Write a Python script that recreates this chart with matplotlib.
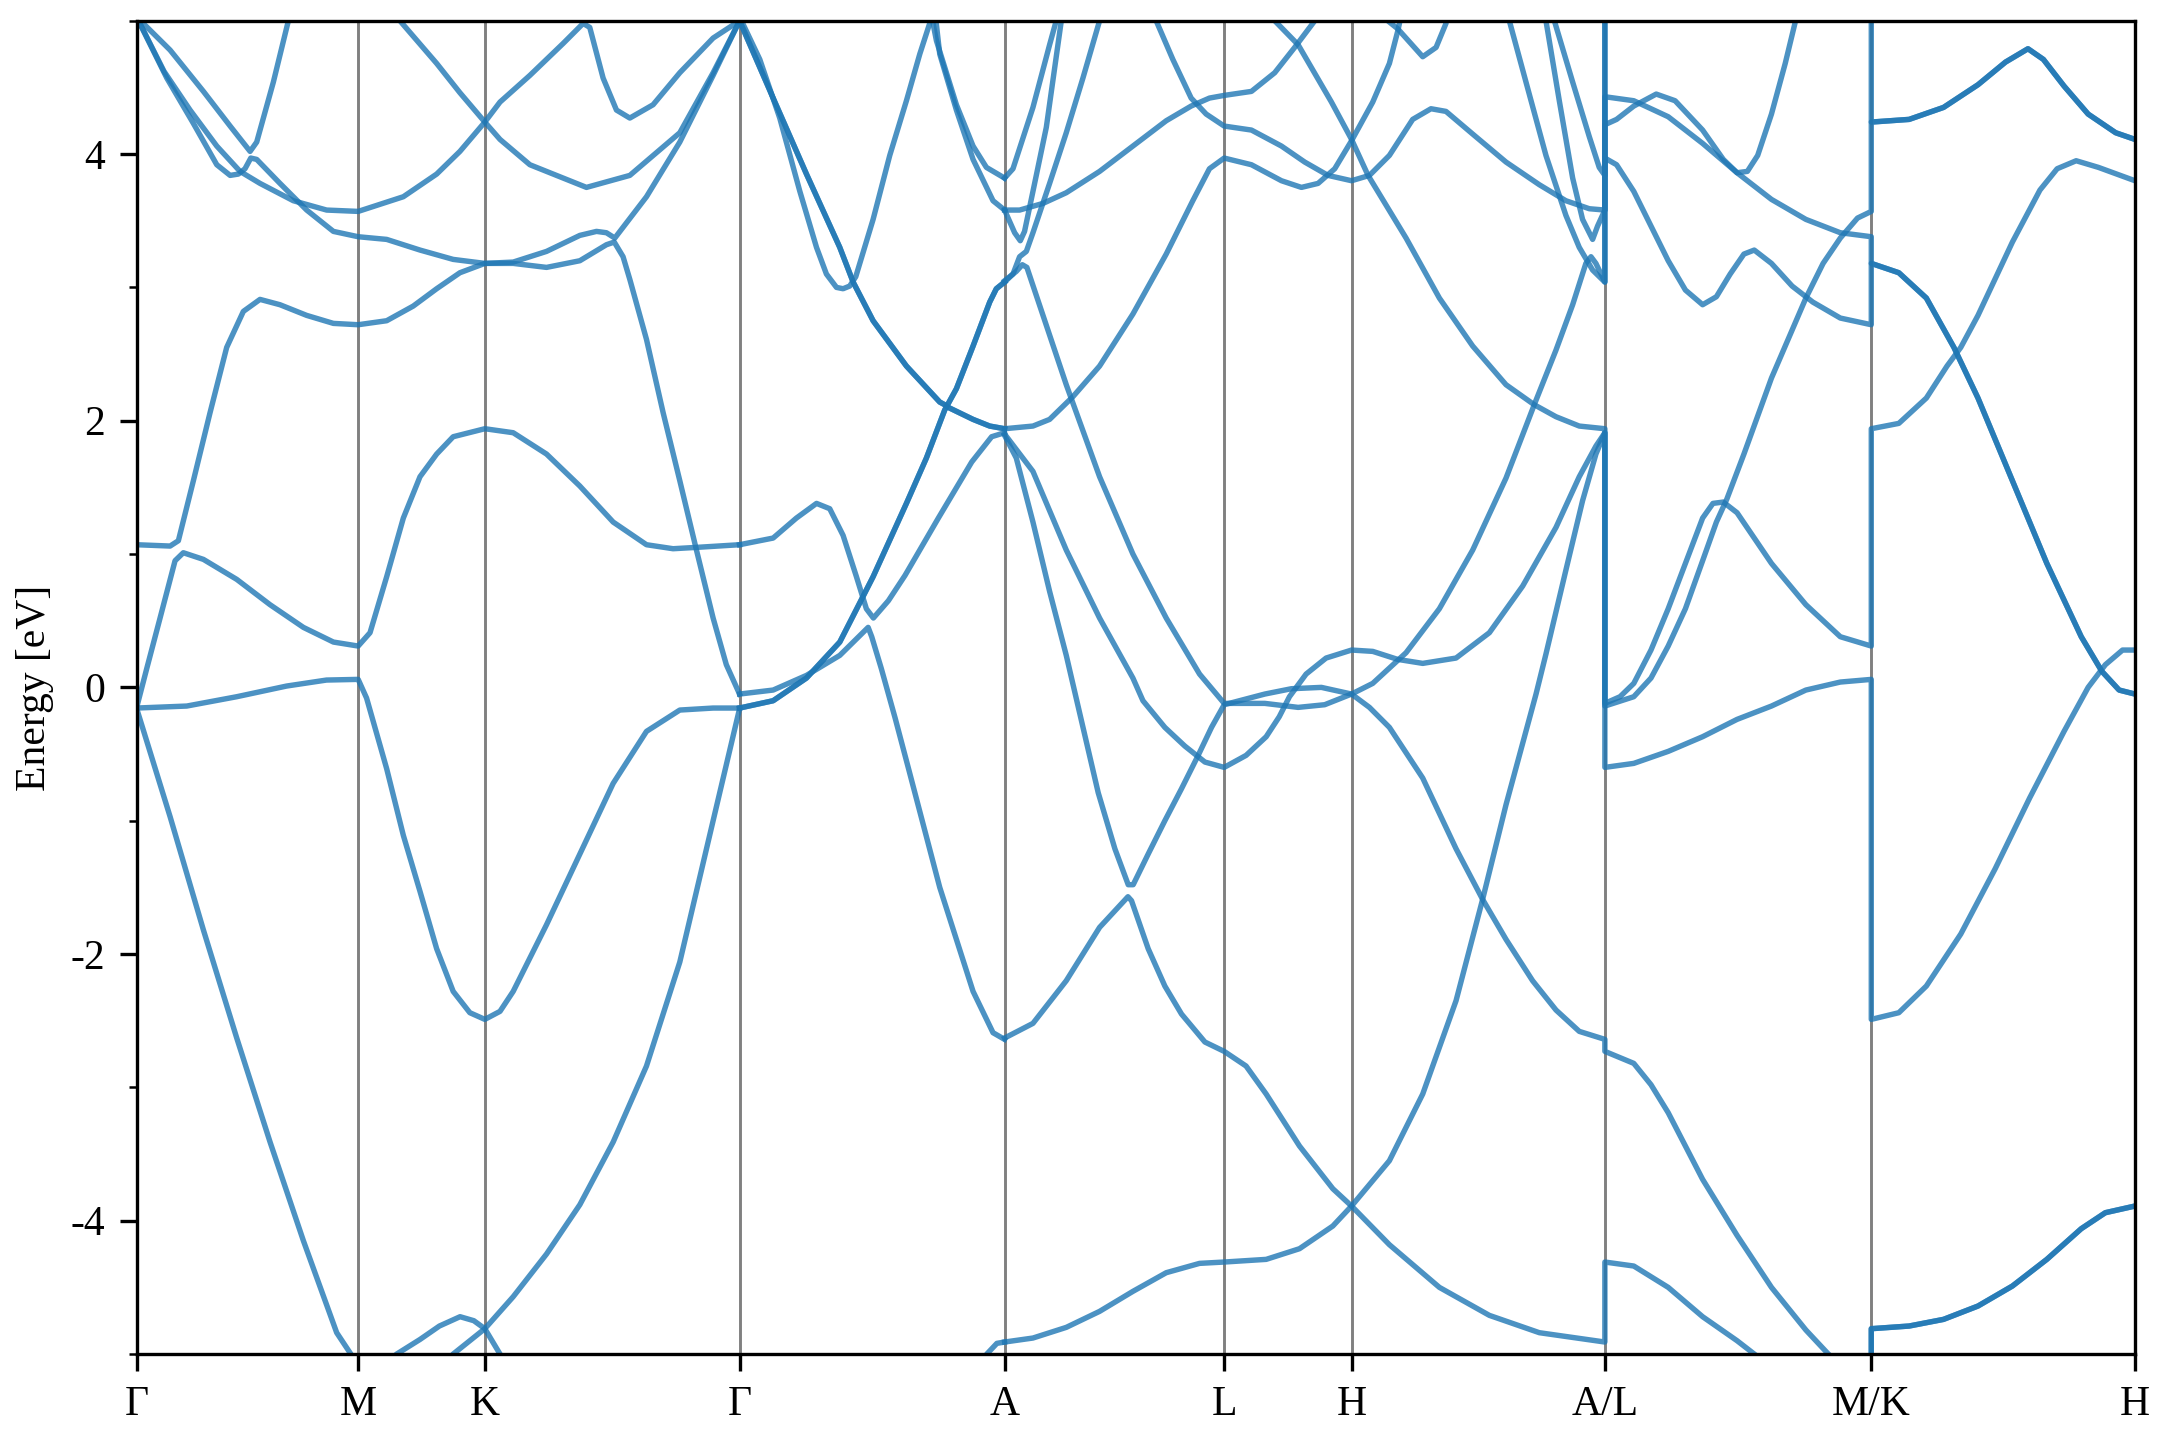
import matplotlib
matplotlib.use('Agg')
import matplotlib.pyplot as plt
from matplotlib.ticker import MultipleLocator

plt.rcParams['font.family'] = ['Liberation Serif', 'DejaVu Serif']
plt.rcParams['axes.unicode_minus'] = False
plt.rcParams['font.size'] = 10

# high-symmetry points along the path
kticks = [0.0, 1.61, 2.53, 4.38, 6.305, 7.90, 8.825, 10.665, 12.60, 14.515]
klabels = ['Γ', 'M', 'K', 'Γ', 'A', 'L', 'H', 'A/L', 'M/K', 'H']

# band pieces, (k, E), one list per segment
# Γ - M
gm_1 = [(0.0, -0.155), (0.244, -0.97), (0.486, -1.82), (0.728, -2.63), (0.97, -3.41), (1.212, -4.15), (1.454, -4.84), (1.563, -5.01), (1.61, -5.16)]
gm_2 = [(0.0, -0.155), (0.365, -0.14), (0.728, -0.07), (1.09, 0.01), (1.38, 0.055), (1.61, 0.06)]
gm_3 = [(0.0, -0.155), (0.074, 0.14), (0.171, 0.52), (0.28, 0.95), (0.34, 1.01), (0.486, 0.96), (0.728, 0.81), (0.97, 0.62), (1.212, 0.45), (1.43, 0.34), (1.61, 0.31)]
gm_4 = [(0.0, 1.07), (0.244, 1.06), (0.304, 1.10), (0.413, 1.55), (0.534, 2.06), (0.655, 2.55), (0.776, 2.82), (0.897, 2.91), (1.042, 2.87), (1.236, 2.79), (1.43, 2.73), (1.61, 2.72)]
gm_5 = [(0.0, 5.03), (0.22, 4.57), (0.413, 4.23), (0.583, 3.92), (0.68, 3.84), (0.74, 3.85), (0.788, 3.89), (0.83, 3.97), (0.873, 3.96), (1.042, 3.78), (1.236, 3.58), (1.43, 3.42), (1.61, 3.38)]
gm_6 = [(0.0, 5.03), (0.20, 4.62), (0.389, 4.33), (0.583, 4.06), (0.752, 3.87), (0.897, 3.78), (1.139, 3.65), (1.381, 3.58), (1.61, 3.57)]
gm_7 = [(0.0, 5.03), (0.244, 4.78), (0.486, 4.47), (0.68, 4.21), (0.825, 4.02), (0.873, 4.09), (0.994, 4.54), (1.103, 5.0), (1.12, 5.06)]

# M - K
mk_1 = [(1.61, -5.16), (1.80, -5.08), (1.89, -5.0), (2.06, -4.89), (2.20, -4.79), (2.35, -4.72), (2.45, -4.75), (2.53, -4.81), (2.64, -5.0), (2.75, -5.2)]
mk_2 = [(2.20, -5.12), (2.30, -5.0), (2.53, -4.81)]
mk_3 = [(1.61, 0.06), (1.671, -0.08), (1.817, -0.61), (1.938, -1.11), (2.059, -1.53), (2.18, -1.96), (2.30, -2.28), (2.421, -2.44), (2.53, -2.49)]
mk_4 = [(1.61, 0.31), (1.696, 0.41), (1.817, 0.83), (1.938, 1.27), (2.059, 1.58), (2.18, 1.75), (2.30, 1.88), (2.53, 1.94)]
mk_5 = [(1.61, 2.72), (1.817, 2.75), (2.01, 2.86), (2.18, 2.99), (2.349, 3.11), (2.53, 3.18)]
mk_6 = [(1.61, 3.38), (1.817, 3.36), (2.059, 3.28), (2.30, 3.21), (2.53, 3.18)]
mk_7 = [(1.61, 3.57), (1.938, 3.68), (2.18, 3.85), (2.349, 4.02), (2.53, 4.24)]
mk_8 = [(1.85, 5.08), (1.913, 5.0), (2.18, 4.68), (2.349, 4.46), (2.53, 4.24)]

# K - Γ
kg_2 = [(2.53, -4.81), (2.736, -4.57), (2.978, -4.25), (3.22, -3.88), (3.462, -3.41), (3.704, -2.84), (3.946, -2.06), (4.188, -1.00), (4.38, -0.16)]
kg_3 = [(2.53, -2.49), (2.64, -2.43), (2.736, -2.28), (2.978, -1.78), (3.22, -1.25), (3.462, -0.72), (3.704, -0.33), (3.946, -0.17), (4.188, -0.155), (4.38, -0.155)]
kg_4 = [(2.53, 1.94), (2.736, 1.91), (2.978, 1.75), (3.22, 1.51), (3.462, 1.24), (3.704, 1.07), (3.897, 1.04), (4.067, 1.05), (4.38, 1.07)]
kg_5 = [(2.53, 3.18), (2.736, 3.18), (2.978, 3.15), (3.22, 3.20), (3.413, 3.32), (3.47, 3.34), (3.534, 3.23), (3.583, 3.06), (3.704, 2.61), (3.825, 2.06), (3.946, 1.55), (4.067, 1.03), (4.188, 0.52), (4.284, 0.17), (4.38, -0.05)]
kg_6 = [(2.53, 3.18), (2.736, 3.19), (2.978, 3.27), (3.22, 3.39), (3.341, 3.42), (3.413, 3.41), (3.474, 3.37), (3.704, 3.68), (3.946, 4.09), (4.188, 4.59), (4.38, 5.0)]
kg_7 = [(2.53, 4.24), (2.64, 4.39), (2.857, 4.59), (3.099, 4.83), (3.244, 4.98), (3.292, 4.95), (3.389, 4.57), (3.486, 4.33), (3.583, 4.27), (3.752, 4.37), (3.946, 4.61), (4.188, 4.87), (4.38, 5.0)]
kg_8 = [(2.53, 4.24), (2.64, 4.11), (2.857, 3.92), (3.268, 3.75), (3.583, 3.84), (3.946, 4.16), (4.188, 4.61), (4.371, 4.98), (4.38, 5.0)]

# Γ - A
ga_1 = [(4.38, 5.0), (4.624, 4.42), (4.866, 3.85), (5.108, 3.30), (5.205, 3.04), (5.35, 2.75), (5.592, 2.41), (5.834, 2.14), (5.87, 2.12), (5.896, 2.10), (6.076, 2.01), (6.197, 1.96), (6.305, 1.94)]
ga_2 = [(4.38, -0.155), (4.624, -0.10), (4.866, 0.07), (5.108, 0.34), (5.35, 0.83), (5.592, 1.38), (5.737, 1.72), (5.87, 2.08), (5.955, 2.24), (6.076, 2.56), (6.197, 2.89), (6.245, 2.99), (6.305, 3.04)]
ga_3 = [(4.38, 5.03), (4.527, 4.71), (4.672, 4.27), (4.818, 3.72), (4.939, 3.30), (5.011, 3.10), (5.084, 3.00), (5.132, 2.99), (5.18, 3.01), (5.224, 3.08), (5.35, 3.51), (5.471, 3.99), (5.592, 4.40), (5.689, 4.75), (5.761, 4.98), (5.78, 5.06)]
ga_4 = [(5.77, 5.06), (5.81, 4.85), (5.955, 4.37), (6.076, 4.06), (6.173, 3.90), (6.305, 3.82)]
ga_5 = [(5.80, 5.06), (5.834, 4.75), (5.955, 4.33), (6.076, 3.96), (6.221, 3.65), (6.305, 3.58)]
ga_6 = [(4.38, -0.05), (4.624, -0.02), (4.866, 0.09), (5.108, 0.24), (5.314, 0.45), (5.34, 0.38), (5.41, 0.14), (5.51, -0.23), (5.61, -0.62), (5.834, -1.50), (6.076, -2.28), (6.221, -2.59), (6.305, -2.64)]
ga_7 = [(4.38, 1.07), (4.624, 1.12), (4.793, 1.27), (4.939, 1.38), (5.035, 1.34), (5.132, 1.14), (5.229, 0.83), (5.301, 0.59), (5.352, 0.52), (5.461, 0.65), (5.582, 0.84), (5.824, 1.27), (6.066, 1.69), (6.211, 1.88), (6.305, 1.91)]
ga_8 = [(6.10, -5.15), (6.176, -5.0), (6.249, -4.92), (6.305, -4.91)]

# A - L
al_1 = [(6.305, 1.94), (6.511, 1.96), (6.632, 2.01), (6.801, 2.18), (6.995, 2.41), (7.237, 2.80), (7.479, 3.25), (7.672, 3.65), (7.793, 3.89), (7.90, 3.97)]
al_2 = [(6.305, 1.89), (6.39, 1.72), (6.511, 1.24), (6.632, 0.72), (6.753, 0.24), (6.825, -0.08), (6.985, -0.79), (7.106, -1.21), (7.203, -1.48), (7.239, -1.48), (7.348, -1.25), (7.469, -1.00), (7.59, -0.76), (7.711, -0.51), (7.808, -0.30), (7.90, -0.13)]
al_3 = [(6.305, 1.90), (6.511, 1.62), (6.753, 1.03), (6.995, 0.52), (7.237, 0.07), (7.31, -0.10), (7.469, -0.30), (7.614, -0.44), (7.76, -0.56), (7.90, -0.60)]
al_4 = [(6.305, 3.05), (6.39, 3.12), (6.434, 3.17), (6.467, 3.15), (6.584, 2.79), (6.753, 2.27), (6.995, 1.58), (7.237, 1.00), (7.479, 0.52), (7.721, 0.10), (7.90, -0.12)]
al_5 = [(6.305, 3.04), (6.366, 3.10), (6.414, 3.23), (6.463, 3.27), (6.511, 3.41), (6.632, 3.78), (6.753, 4.16), (6.874, 4.57), (6.995, 5.0), (7.01, 5.06)]
al_6 = [(6.305, 3.58), (6.378, 3.41), (6.419, 3.35), (6.45, 3.42), (6.511, 3.72), (6.608, 4.20), (6.717, 5.0), (6.73, 5.06)]
al_7 = [(6.305, 3.58), (6.414, 3.58), (6.584, 3.63), (6.753, 3.71), (6.995, 3.87), (7.237, 4.06), (7.479, 4.25), (7.66, 4.36), (7.793, 4.42), (7.90, 4.44)]
al_8 = [(6.305, 3.82), (6.366, 3.89), (6.511, 4.35), (6.632, 4.82), (6.68, 5.0), (6.69, 5.06)]
al_9 = [(7.39, 5.06), (7.406, 5.0), (7.527, 4.71), (7.66, 4.42), (7.769, 4.30), (7.90, 4.21)]
al_10 = [(6.305, -2.63), (6.511, -2.52), (6.753, -2.20), (6.995, -1.80), (7.201, -1.57), (7.227, -1.60), (7.348, -1.96), (7.469, -2.24), (7.59, -2.45), (7.76, -2.66), (7.90, -2.73)]
al_11 = [(6.305, -4.91), (6.511, -4.88), (6.753, -4.80), (6.995, -4.68), (7.237, -4.53), (7.479, -4.39), (7.721, -4.32), (7.90, -4.31)]

# L - H
lh_1 = [(7.90, 3.97), (8.098, 3.92), (8.316, 3.80), (8.461, 3.75), (8.582, 3.78), (8.703, 3.89), (8.825, 4.10)]
lh_2 = [(7.90, 4.21), (8.098, 4.18), (8.316, 4.06), (8.485, 3.94), (8.654, 3.84), (8.825, 3.80)]
lh_3 = [(7.90, 4.44), (8.098, 4.47), (8.267, 4.61), (8.412, 4.80), (8.558, 5.0), (8.57, 5.06)]
lh_4 = [(8.25, 5.06), (8.267, 5.0), (8.437, 4.82), (8.679, 4.39), (8.825, 4.11)]
lh_5 = [(7.90, -0.12), (8.195, -0.12), (8.437, -0.15), (8.63, -0.13), (8.825, -0.05)]
lh_6 = [(7.90, -0.13), (8.195, -0.05), (8.388, -0.01), (8.606, 0.0), (8.825, -0.05)]
lh_7 = [(7.90, -0.60), (8.059, -0.51), (8.205, -0.37), (8.30, -0.22), (8.374, -0.07), (8.495, 0.10), (8.64, 0.22), (8.825, 0.28)]
lh_8 = [(7.90, -2.73), (8.059, -2.84), (8.205, -3.05), (8.447, -3.44), (8.689, -3.76), (8.825, -3.89)]
lh_9 = [(7.90, -4.31), (8.205, -4.29), (8.447, -4.21), (8.689, -4.04), (8.825, -3.89)]

# H - A/L
ha_1 = [(8.825, 4.10), (8.979, 4.39), (9.10, 4.68), (9.16, 4.92), (9.19, 5.06)]
ha_2 = [(8.825, 3.80), (8.955, 3.84), (9.10, 3.99), (9.269, 4.26), (9.402, 4.34), (9.511, 4.32), (9.705, 4.15), (9.947, 3.94), (10.189, 3.77), (10.382, 3.65), (10.552, 3.59), (10.665, 3.58)]
ha_3 = [(9.06, 5.06), (9.088, 5.0), (9.16, 4.94), (9.342, 4.73), (9.439, 4.80), (9.511, 4.98), (9.52, 5.06)]
ha_4 = [(8.825, 4.11), (8.945, 3.84), (9.221, 3.37), (9.463, 2.92), (9.705, 2.56), (9.947, 2.27), (10.152, 2.12), (10.31, 2.03), (10.479, 1.96), (10.665, 1.94)]
ha_5 = [(8.825, -0.05), (8.979, 0.03), (9.221, 0.26), (9.463, 0.59), (9.705, 1.03), (9.947, 1.57), (10.152, 2.12), (10.31, 2.53), (10.431, 2.87), (10.527, 3.18), (10.564, 3.23), (10.60, 3.18), (10.665, 3.04)]
ha_6 = [(8.825, -0.05), (8.955, -0.15), (9.10, -0.30), (9.342, -0.68), (9.584, -1.21), (9.777, -1.59), (9.947, -1.89), (10.14, -2.20), (10.31, -2.42), (10.479, -2.58), (10.665, -2.64)]
ha_7 = [(8.825, 0.28), (8.979, 0.27), (9.16, 0.21), (9.342, 0.18), (9.584, 0.22), (9.826, 0.41), (10.068, 0.76), (10.31, 1.20), (10.479, 1.58), (10.60, 1.81), (10.665, 1.91)]
ha_8 = [(8.825, -3.89), (9.10, -4.18), (9.463, -4.50), (9.826, -4.71), (10.189, -4.84), (10.665, -4.91)]
ha_9 = [(8.825, -3.89), (9.10, -3.55), (9.342, -3.05), (9.584, -2.35), (9.777, -1.59), (9.947, -0.88), (10.165, -0.05), (10.237, 0.25), (10.382, 0.88), (10.503, 1.40), (10.60, 1.75), (10.665, 1.91)]
ha_10 = [(9.96, 5.06), (9.971, 5.0), (10.092, 4.54), (10.237, 3.99), (10.382, 3.54), (10.479, 3.30), (10.576, 3.13), (10.665, 3.04)]
ha_11 = [(10.225, 5.06), (10.237, 5.0), (10.334, 4.40), (10.431, 3.82), (10.503, 3.51), (10.576, 3.36), (10.612, 3.46), (10.665, 3.58)]
ha_12 = [(10.285, 5.06), (10.298, 5.0), (10.431, 4.54), (10.552, 4.13), (10.624, 3.90), (10.665, 3.84)]

# L - M (after the A/L jump)
lm_1 = [(10.665, 4.43), (10.875, 4.40), (11.125, 4.28), (11.375, 4.08), (11.625, 3.86), (11.875, 3.66), (12.125, 3.51), (12.375, 3.41), (12.60, 3.38)]
lm_2 = [(10.665, 4.22), (10.75, 4.26), (10.875, 4.36), (11.038, 4.45), (11.175, 4.40), (11.375, 4.18), (11.525, 3.96), (11.625, 3.86), (11.70, 3.87), (11.775, 3.99), (11.875, 4.30), (11.975, 4.68), (12.05, 5.0), (12.07, 5.06), (12.60, 5.6)]
lm_3 = [(10.665, 3.97), (10.75, 3.92), (10.875, 3.72), (11.0, 3.46), (11.125, 3.20), (11.25, 2.98), (11.375, 2.87), (11.475, 2.93), (11.575, 3.10), (11.675, 3.25), (11.75, 3.28), (11.875, 3.18), (12.025, 3.01), (12.175, 2.89), (12.375, 2.77), (12.60, 2.72)]
lm_4 = [(10.665, -0.12), (10.775, -0.07), (10.875, 0.03), (11.0, 0.28), (11.125, 0.59), (11.25, 0.93), (11.375, 1.27), (11.45, 1.38), (11.525, 1.39), (11.625, 1.31), (11.75, 1.12), (11.875, 0.93), (12.125, 0.62), (12.375, 0.38), (12.60, 0.31)]
lm_5 = [(10.665, -0.14), (10.875, -0.07), (11.0, 0.07), (11.125, 0.31), (11.25, 0.59), (11.375, 0.95), (11.475, 1.24), (11.55, 1.41), (11.675, 1.75), (11.875, 2.32), (12.025, 2.68), (12.125, 2.92), (12.25, 3.18), (12.375, 3.37), (12.50, 3.52), (12.60, 3.57)]
lm_6 = [(10.665, -0.60), (10.875, -0.57), (11.125, -0.48), (11.375, -0.37), (11.625, -0.24), (11.875, -0.14), (12.125, -0.02), (12.375, 0.04), (12.60, 0.06)]
lm_7 = [(10.665, -2.73), (10.875, -2.82), (11.0, -2.98), (11.125, -3.19), (11.25, -3.44), (11.375, -3.69), (11.625, -4.11), (11.875, -4.50), (12.125, -4.82), (12.288, -5.0), (12.45, -5.15), (12.60, -5.2)]
lm_8 = [(10.665, -4.31), (10.875, -4.34), (11.125, -4.50), (11.375, -4.72), (11.625, -4.90), (11.75, -5.0), (11.9, -5.12), (12.60, -5.6)]
lm_9 = [(10.665, 5.6)]   # bands above the window at L
lm_10 = [(10.665, 5.8)]

# K - H (after the M/K jump)
kh_1 = [(12.60, 4.24), (12.875, 4.26), (13.125, 4.35), (13.375, 4.52), (13.575, 4.69), (13.738, 4.79), (13.85, 4.71), (14.0, 4.51), (14.175, 4.30), (14.375, 4.16), (14.515, 4.11)]
kh_2 = [(12.60, 3.18), (12.80, 3.11), (13.0, 2.92), (13.20, 2.55), (13.375, 2.17), (13.625, 1.55), (13.875, 0.93), (14.125, 0.38), (14.275, 0.12), (14.40, -0.02), (14.515, -0.05)]
kh_3 = [(12.60, 1.94), (12.80, 1.98), (13.0, 2.17), (13.15, 2.41), (13.25, 2.55), (13.375, 2.79), (13.625, 3.34), (13.825, 3.73), (13.95, 3.89), (14.088, 3.95), (14.25, 3.90), (14.515, 3.80)]
kh_4 = [(12.60, -2.49), (12.80, -2.44), (13.0, -2.24), (13.25, -1.85), (13.50, -1.36), (13.75, -0.83), (14.0, -0.33), (14.175, 0.0), (14.30, 0.17), (14.425, 0.28), (14.515, 0.28)]
kh_5 = [(12.60, -4.81), (12.875, -4.79), (13.125, -4.74), (13.375, -4.64), (13.625, -4.49), (13.875, -4.29), (14.125, -4.06), (14.30, -3.94), (14.515, -3.89)]

# pieces joined into bands (degenerate bands appear twice)
bands = [
    [gm_1, mk_1], [mk_2, kg_2], [gm_2, mk_3, kg_3], [gm_3, mk_4, kg_4],
    [gm_4, mk_5, kg_5], [gm_5, mk_6, kg_6], [gm_6, mk_7, kg_7], [gm_7], [mk_8, kg_8],
    [ga_1], [ga_1], [ga_2], [ga_2], [ga_3], [ga_4], [ga_5], [ga_6], [ga_7], [ga_8],
    [al_5], [al_6], [al_8], [ha_3],
    [al_11, lh_9, ha_9, lm_6, kh_4],
    [al_10, lh_8, ha_8, lm_8, kh_5],
    [al_2, lh_6, ha_6, lm_7, kh_5],
    [al_3, lh_7, ha_7, lm_5, kh_1],
    [lh_4, ha_4, lm_4, kh_3],
    [al_4, lh_5, ha_5, lm_2, kh_1],
    [ha_10, lm_3, kh_2],
    [al_9, lh_2, ha_2, lm_1, kh_2],
    [ha_11, lm_9], [ha_12, lm_10],
    [al_1, lh_1, ha_1],
    [al_7, lh_3],
]

fig = plt.figure(figsize=(7.2, 4.8), dpi=300)
ax = fig.add_axes([0.0632, 0.0597, 0.9252, 0.9259])

for x in kticks:
    ax.axvline(x, color='#808080', lw=0.7, zorder=1)

for band in bands:
    pts = [p for piece in band for p in piece]
    ax.plot([p[0] for p in pts], [p[1] for p in pts], color='#1f77b4', lw=1.3, alpha=0.8, zorder=2,
            solid_joinstyle='round')

ax.set_xlim(kticks[0], kticks[-1])
ax.set_ylim(-5, 5)
ax.set_xticks(kticks)
ax.set_xticklabels(klabels)
ax.set_yticks([-4, -2, 0, 2, 4])
ax.yaxis.set_minor_locator(MultipleLocator(1))
ax.tick_params(which='major', length=4)
ax.tick_params(which='minor', length=2)
ax.set_ylabel('Energy [eV]')

fig.savefig('out.png', dpi=300)
